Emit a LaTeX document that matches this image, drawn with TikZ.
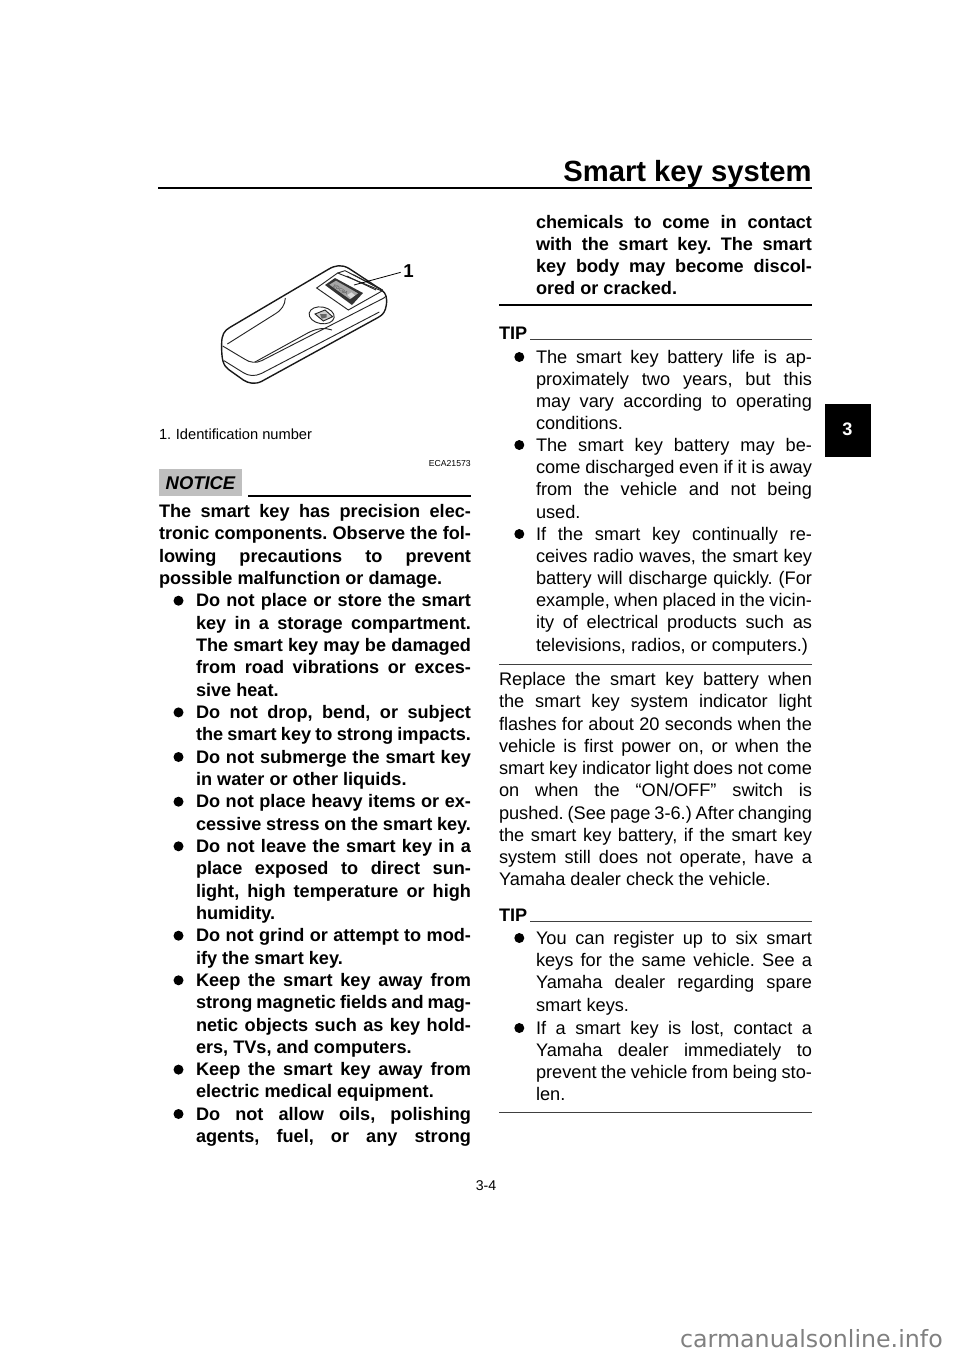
\documentclass[tikz,border=0pt]{standalone}
\usepackage{fontspec}
\setmainfont{Liberation Sans}
\newfontfamily\wmfont{DejaVu Sans}
\newcounter{tln}
\tikzset{
  px/.style={x=0.75pt,y=-0.75pt},
  txt/.style={anchor=base west,inner sep=0pt,outer sep=0pt,font=\fontsize{13.65pt}{16pt}\selectfont\frenchspacing},
  btxt/.style={txt,font=\fontsize{13.6pt}{16pt}\selectfont\bfseries\frenchspacing},
  heavy/.style={line width=1.5pt,black},
  thin rule/.style={line width=0.75pt,black!75},
  outl/.style={line width=1.05pt,black!90,line join=round},
  seam/.style={line width=0.7pt,black!85},
}
% justified line: style, x, baseline y, width, text
\newcommand{\jl}[5]{\stepcounter{tln}\node[#1,name=t\arabic{tln}] at (#2,#3) {\makebox[\dimexpr #4pt*3/4\relax][s]{#5}};}
% natural-width line: style, x, baseline y, text
\newcommand{\nl}[4]{\stepcounter{tln}\node[#1,name=t\arabic{tln}] at (#2,#3) {#4};}
% bullet: x, baseline y
\newcommand{\blt}[2]{\fill (#1,#2-6) circle (5);}
\begin{document}
\begin{tikzpicture}[px]
\useasboundingbox (0,0) rectangle (960,1357);
% header
\node[anchor=base east,inner sep=0pt,font=\fontsize{21.9pt}{26pt}\selectfont\bfseries] (title) at (812,181.5) {Smart key system};
\draw[line width=1.9pt] (158,188) -- (812,188);
% tab
\fill (825.3,404) rectangle (870.7,457);
\node[inner sep=0pt,white,font=\fontsize{13.6pt}{16pt}\selectfont\bfseries] (tab) at (847.5,429) {3};
% key drawing
\begin{scope}[shift={(150,240)},x=0.25pt,y=-0.25pt]
\draw[outl] (215,312) .. controls (215,285) and (222,272) .. (240,262) -- (535,88) .. controls (555,76) and (575,72) .. (598,86) -- (695,150) .. controls (708,160) and (712,172) .. (709,195) .. controls (706,214) and (700,224) .. (685,232) -- (335,424) .. controls (315,434) and (295,430) .. (280,420) -- (235,388) .. controls (220,376) and (214,360) .. (215,312) -- cycle;
\draw[seam] (218,318) -- (285,358) .. controls (300,368) and (318,370) .. (335,362) -- (690,180) .. controls (700,175) and (706,172) .. (708,168);
\draw[seam] (222,362) -- (280,398) .. controls (295,408) and (315,410) .. (335,400) -- (688,216);
\draw[seam] (232,312) -- (375,222) .. controls (395,210) and (405,195) .. (406,174);
\draw[seam] (315,366) -- (475,278) .. controls (500,265) and (525,262) .. (546,270);
\draw[seam] (500,144) -- (563,99) -- (696,153) -- (595,210) -- cycle;
\draw[seam] (563,99) -- (585,92) -- (698,150);
\draw[seam] (590,108) -- (678,150) (610,104) -- (688,146);
\fill[black!80] (525,135) -- (555,114) -- (639,159) -- (606,195) -- cycle;
\fill[black!35] (538,134) -- (558,122) -- (624,160) -- (600,178) -- cycle;
\node[inner sep=0pt,rotate=-30,black!70,font=\fontsize{3.5pt}{4pt}\selectfont] (idn) at (572,150) {EDCBA};
\fill[white,opacity=.6] (592,165) -- (604,157) -- (615,166) -- (603,175) -- cycle;
\draw[seam] (515,226) ellipse [x radius=38,y radius=25,rotate=-10];
\draw[seam,fill=black!20] (495,222) -- (525,210) -- (548,230) -- (520,243) -- cycle;
\fill[black!60] (510,222) -- (530,222) -- (530,232) -- (515,236) -- cycle;
\coordinate (lead) at (612,135);
\coordinate (leadend) at (752,97);
\draw[line width=0.6pt] (lead) -- (leadend);
\end{scope}
\node[inner sep=0pt,font=\fontsize{14pt}{16pt}\selectfont\bfseries] (one) at (408.5,271) {1};
\nl{txt,font=\fontsize{11pt}{12pt}\selectfont}{159}{439}{1.\hspace{3.5pt}Identification number}
\node[anchor=base east,inner sep=0pt,font=\fontsize{6.5pt}{8pt}\selectfont] (eca) at (471,466) {ECA21573};
% notice
\fill[black!25] (159,469) rectangle (242,496);
\node[inner sep=0pt,font=\fontsize{13.8pt}{16pt}\selectfont\bfseries\itshape] (not) at (200.5,483) {NOTICE};
\draw[heavy] (248,495.5) -- (471,495.5);
% left column
\def\colL{159}\def\widL{312}
\jl{btxt}{\colL}{517.4}{\widL}{The smart key has precision elec-}
\jl{btxt}{\colL}{539.7}{\widL}{tronic components. Observe the fol-}
\jl{btxt}{\colL}{562}{\widL}{lowing precautions to prevent}
\nl{btxt}{\colL}{584.4}{possible malfunction or damage.}
\def\colM{196}\def\widM{275}\def\bltL{178.5}
\blt{\bltL}{606.7}
\jl{btxt}{\colM}{606.7}{\widM}{Do not place or store the smart}
\jl{btxt}{\colM}{629}{\widM}{key in a storage compartment.}
\jl{btxt}{\colM}{651.4}{\widM}{The smart key may be damaged}
\jl{btxt}{\colM}{673.7}{\widM}{from road vibrations or exces-}
\nl{btxt}{\colM}{696}{sive heat.}
\blt{\bltL}{718.4}
\jl{btxt}{\colM}{718.4}{\widM}{Do not drop, bend, or subject}
\jl{btxt}{\colM}{740.7}{\widM}{the smart key to strong impacts.}
\blt{\bltL}{763}
\jl{btxt}{\colM}{763}{\widM}{Do not submerge the smart key}
\nl{btxt}{\colM}{785.3}{in water or other liquids.}
\blt{\bltL}{807.7}
\jl{btxt}{\colM}{807.7}{\widM}{Do not place heavy items or ex-}
\jl{btxt}{\colM}{830}{\widM}{cessive stress on the smart key.}
\blt{\bltL}{852.3}
\jl{btxt}{\colM}{852.3}{\widM}{Do not leave the smart key in a}
\jl{btxt}{\colM}{874.7}{\widM}{place exposed to direct sun-}
\jl{btxt}{\colM}{897}{\widM}{light, high temperature or high}
\nl{btxt}{\colM}{919.3}{humidity.}
\blt{\bltL}{941.7}
\jl{btxt}{\colM}{941.7}{\widM}{Do not grind or attempt to mod-}
\nl{btxt}{\colM}{964}{ify the smart key.}
\blt{\bltL}{986.3}
\jl{btxt}{\colM}{986.3}{\widM}{Keep the smart key away from}
\jl{btxt}{\colM}{1008.7}{\widM}{strong magnetic fields and mag-}
\jl{btxt}{\colM}{1031}{\widM}{netic objects such as key hold-}
\nl{btxt}{\colM}{1053.3}{ers, TVs, and computers.}
\blt{\bltL}{1075.6}
\jl{btxt}{\colM}{1075.6}{\widM}{Keep the smart key away from}
\nl{btxt}{\colM}{1097.5}{electric medical equipment.}
\blt{\bltL}{1120}
\jl{btxt}{\colM}{1120}{\widM}{Do not allow oils, polishing}
\jl{btxt}{\colM}{1142}{\widM}{agents, fuel, or any strong}
% right column
\def\colR{499}\def\widR{313}\def\colN{536}\def\widN{276}\def\bltR{519.3}
\jl{btxt}{\colN}{228}{\widN}{chemicals to come in contact}
\jl{btxt}{\colN}{250}{\widN}{with the smart key. The smart}
\jl{btxt}{\colN}{272}{\widN}{key body may become discol-}
\nl{btxt}{\colN}{294}{ored or cracked.}
\draw[heavy] (499,304.5) -- (812,304.5);
\nl{btxt}{\colR}{339}{TIP}
\draw[thin rule] (530,339) -- (812,339);
\blt{\bltR}{363}
\jl{txt}{\colN}{363}{\widN}{The smart key battery life is ap-}
\jl{txt}{\colN}{385}{\widN}{proximately two years, but this}
\jl{txt}{\colN}{407}{\widN}{may vary according to operating}
\nl{txt}{\colN}{429}{conditions.}
\blt{\bltR}{451}
\jl{txt}{\colN}{451}{\widN}{The smart key battery may be-}
\jl{txt}{\colN}{473}{\widN}{come discharged even if it is away}
\jl{txt}{\colN}{495}{\widN}{from the vehicle and not being}
\nl{txt}{\colN}{518}{used.}
\blt{\bltR}{540}
\jl{txt}{\colN}{540}{\widN}{If the smart key continually re-}
\jl{txt}{\colN}{562}{\widN}{ceives radio waves, the smart key}
\jl{txt}{\colN}{584}{\widN}{battery will discharge quickly. (For}
\jl{txt}{\colN}{606}{\widN}{example, when placed in the vicin-}
\jl{txt}{\colN}{628}{\widN}{ity of electrical products such as}
\nl{txt}{\colN}{651}{televisions, radios, or computers.)}
\draw[thin rule] (499,664) -- (812,664);
\jl{txt}{\colR}{685}{\widR}{Replace the smart key battery when}
\jl{txt}{\colR}{707}{\widR}{the smart key system indicator light}
\jl{txt}{\colR}{730}{\widR}{flashes for about 20 seconds when the}
\jl{txt}{\colR}{752}{\widR}{vehicle is first power on, or when the}
\jl{txt}{\colR}{774.5}{\widR}{smart key indicator light does not come}
\jl{txt}{\colR}{796.5}{\widR}{on when the “ON/OFF” switch is}
\jl{txt}{\colR}{819}{\widR}{pushed. (See page 3-6.) After changing}
\jl{txt}{\colR}{841}{\widR}{the smart key battery, if the smart key}
\jl{txt}{\colR}{863.5}{\widR}{system still does not operate, have a}
\nl{txt}{\colR}{885.7}{Yamaha dealer check the vehicle.}
\nl{btxt}{\colR}{921}{TIP}
\draw[thin rule] (530,921.7) -- (812,921.7);
\blt{\bltR}{944}
\jl{txt}{\colN}{944}{\widN}{You can register up to six smart}
\jl{txt}{\colN}{966}{\widN}{keys for the same vehicle. See a}
\jl{txt}{\colN}{988.5}{\widN}{Yamaha dealer regarding spare}
\nl{txt}{\colN}{1011}{smart keys.}
\blt{\bltR}{1034}
\jl{txt}{\colN}{1034}{\widN}{If a smart key is lost, contact a}
\jl{txt}{\colN}{1056.5}{\widN}{Yamaha dealer immediately to}
\jl{txt}{\colN}{1078.5}{\widN}{prevent the vehicle from being sto-}
\nl{txt}{\colN}{1100.7}{len.}
\draw[thin rule] (499,1112) -- (812,1112);
% footer
\node[anchor=base,inner sep=0pt,font=\fontsize{10.6pt}{12pt}\selectfont] (pg) at (486,1190) {3-4};
\node[anchor=base east,inner sep=0pt,black!50,font=\wmfont\fontsize{17.8pt}{20pt}\selectfont] (wm) at (943,1347) {carmanualsonline.info};
\end{tikzpicture}
\end{document}
